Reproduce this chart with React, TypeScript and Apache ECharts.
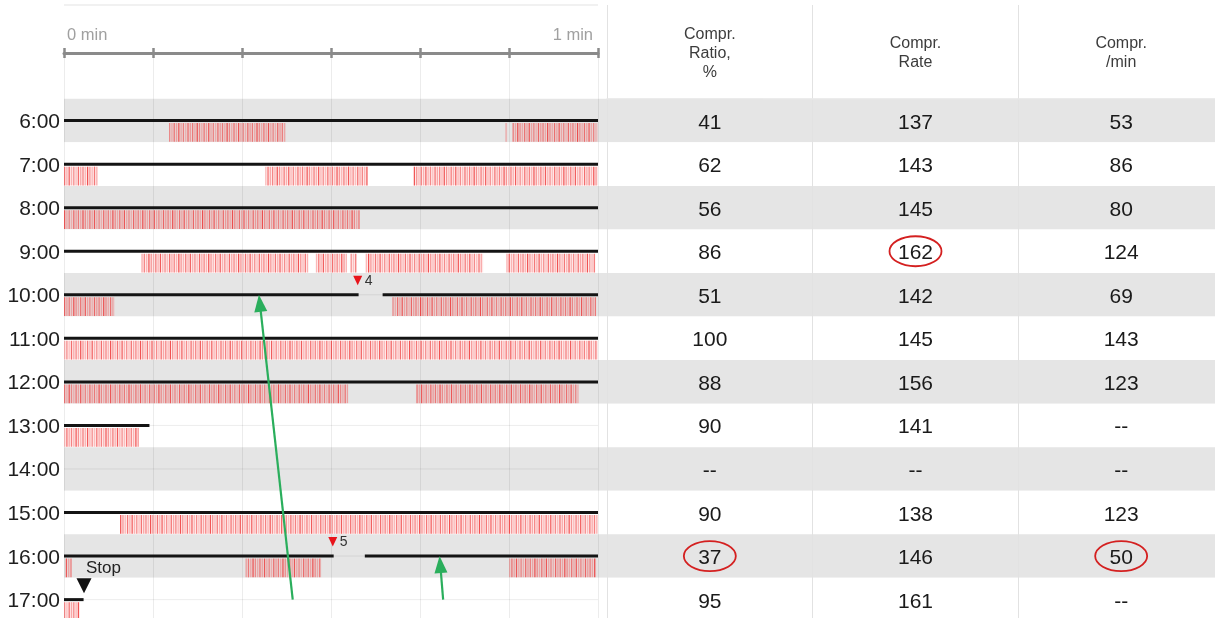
import React, { useEffect, useRef } from 'react';
import * as echarts from 'echarts';

// ---------- data ----------
const hourLabels = ['6:00', '7:00', '8:00', '9:00', '10:00', '11:00', '12:00', '13:00', '14:00', '15:00', '16:00', '17:00'];
const rulerLabels: Record<number, string> = { 0: '{l|0 min}', 60: '{r|1 min}' };
const tableHeaders = ['Compr.\nRatio,\n%', 'Compr.\nRate', 'Compr.\n/min'];
const comprRatio = [41, 62, 56, 86, 51, 100, 88, 90, null, 90, 37, 95];
const comprRate = [137, 143, 145, 162, 142, 145, 156, 141, null, 138, 146, 161];
const comprPerMin = [53, 86, 80, 124, 69, 143, 123, null, null, 123, 50, null];

// [start s, row index, end s]
const recordingLines = [
  [0, 0, 60], [0, 1, 60], [0, 2, 60], [0, 3, 60],
  [0, 4, 33.1], [35.8, 4, 60],
  [0, 5, 60], [0, 6, 60], [0, 7, 9.6], [0, 9, 60],
  [0, 10, 30.3], [33.8, 10, 60],
  [0, 11, 2.2],
];
// [start s, row index, end s]
const compressionPeriods = [
  [11.8, 0, 24.9], [49.6, 0, 49.8], [50.4, 0, 60],
  [0, 1, 3.8], [22.6, 1, 34.1], [39.3, 1, 60],
  [0, 2, 33.2],
  [8.7, 3, 27.4], [28.3, 3, 31.8], [32.2, 3, 32.8], [33.9, 3, 47.1], [49.7, 3, 59.7],
  [0, 4, 5.7], [36.9, 4, 59.8],
  [0, 5, 60],
  [0, 6, 31.9], [39.6, 6, 57.8],
  [0, 7, 8.4],
  [6.3, 9, 60],
  [0.2, 10, 0.9], [20.4, 10, 28.9], [50, 10, 59.8],
  [0, 11, 1.8],
];
// [time s, row index, label, kind]
const eventMarks: [number, number, string, string][] = [
  [33.0, 4, '4', 'shock'],
  [30.2, 10, '5', 'shock'],
  [2.25, 11, 'Stop', 'stop'],
];
// [column, row]
const circledCells = [[1, 3], [0, 10], [2, 10]];
// [tail s, tail row, tip s, tip row]
const pointerArrows = [
  [25.7, 11.42, 21.9, 4.33],
  [42.6, 11.42, 42.2, 10.36],
];

const hatchAlpha = [0.45, 0.25, 0.6, 0.3, 0.75, 0.28, 0.5, 0.22, 0.65, 0.35, 0.55, 0.27, 0.8];

export default function App() {
  const ref = useRef<HTMLDivElement>(null);

  useEffect(() => {
    const chart = echarts.init(ref.current!, null, { renderer: 'svg' });
    const font = "'Liberation Sans', Arial, Helvetica, sans-serif";
    const gridTop = 98.8;
    const gridH = 522.6;
    const faint = 'rgba(0,0,0,0.075)';
    const rulerColor = '#8a8a8a';
    const tableLine = '#e2e2e2';
    const tableCols = [comprRatio, comprRate, comprPerMin];
    const tableData: number[][] = [];
    tableCols.forEach((col, c) => col.forEach((_, r) => tableData.push([c, r])));
    const rulerText = { color: '#a0a0a0', fontSize: 16.5, fontFamily: font };

    const option: any = {
      animation: false,
      textStyle: { fontFamily: font },
      grid: [
        { left: 64, top: gridTop, width: 1160, height: gridH },
        { left: 64, top: gridTop, width: 534, height: gridH },
        { left: 64, top: 52, width: 534, height: 1 },
        { left: 607, top: gridTop, width: 617, height: gridH },
        { left: 607, top: 5, width: 617, height: gridTop - 5 },
        { left: 64, top: 52, width: 534, height: gridTop - 52 },
      ],
      xAxis: [
        { gridIndex: 0, type: 'value', show: false, min: 0, max: 1 },
        {
          gridIndex: 1, type: 'value', min: 0, max: 60, interval: 10,
          axisLine: { show: false }, axisTick: { show: false }, axisLabel: { show: false },
          splitLine: { show: true, lineStyle: { color: faint, width: 1 } }, z: 1,
        },
        {
          gridIndex: 2, type: 'value', position: 'top', min: 0, max: 60, interval: 10,
          axisLine: { show: true, lineStyle: { color: rulerColor, width: 3 } },
          axisTick: { show: true, length: 5, lineStyle: { color: rulerColor, width: 2.5 } },
          axisLabel: {
            show: true, margin: 10, ...rulerText,
            formatter: (v: number) => rulerLabels[v] ?? '',
            alignMinLabel: 'left', alignMaxLabel: 'right',
            rich: {
              l: { ...rulerText, padding: [0, 0, 0, 3] },
              r: { ...rulerText, padding: [0, 5, 0, 0] },
            },
          },
          splitLine: { show: false }, z: 3,
        },
        {
          gridIndex: 2, type: 'value', position: 'bottom', min: 0, max: 60, interval: 10,
          axisLine: { show: false },
          axisTick: { show: true, length: 5, lineStyle: { color: rulerColor, width: 2.5 } },
          axisLabel: { show: false }, splitLine: { show: false }, z: 3,
        },
        {
          gridIndex: 3, type: 'category', position: 'top', data: tableHeaders,
          axisLine: { show: true, lineStyle: { color: tableLine } }, axisTick: { show: false },
          axisLabel: {
            interval: 0, margin: gridTop - 52, verticalAlign: 'middle', align: 'center',
            lineHeight: 19, fontSize: 16, color: '#3c3c3c', fontFamily: font,
          },
          splitLine: { show: true, interval: 0, lineStyle: { color: tableLine } }, z: 1,
        },
        {
          gridIndex: 4, type: 'category', position: 'top', data: tableHeaders,
          axisLine: { show: true, lineStyle: { color: '#e8e8e8', width: 1.5 } }, axisTick: { show: false },
          axisLabel: { show: false },
          splitLine: { show: true, interval: 0, lineStyle: { color: tableLine } }, z: 1,
        },
        {
          gridIndex: 5, type: 'value', min: 0, max: 60, interval: 10,
          axisLine: { show: false }, axisTick: { show: false }, axisLabel: { show: false },
          splitLine: { show: true, lineStyle: { color: faint, width: 1 } }, z: 1,
        },
      ],
      yAxis: [
        {
          gridIndex: 0, type: 'category', inverse: true, data: hourLabels,
          axisLine: { show: false }, axisTick: { show: false }, axisLabel: { show: false },
          splitLine: { show: false },
          splitArea: { show: true, interval: 0, areaStyle: { color: ['#e5e5e5', '#ffffff'] } }, z: 0,
        },
        {
          gridIndex: 1, type: 'category', inverse: true, data: hourLabels,
          axisLine: { show: false }, axisTick: { show: false },
          axisLabel: { show: true, interval: 0, margin: 4, fontSize: 21, color: '#1e1e1e', fontFamily: font },
          splitLine: { show: false }, z: 1,
        },
        { gridIndex: 2, type: 'value', show: false, min: 0, max: 1 },
        { gridIndex: 3, type: 'category', inverse: true, data: hourLabels, show: false },
        { gridIndex: 4, type: 'value', show: false, min: 0, max: 1 },
        { gridIndex: 5, type: 'value', show: false, min: 0, max: 1 },
      ],
      graphic: [
        { type: 'line', shape: { x1: 64, y1: 5, x2: 598, y2: 5 }, style: { stroke: '#ececec', lineWidth: 1.5 }, silent: true },
      ],
      series: [
        {
          type: 'custom', xAxisIndex: 1, yAxisIndex: 1, z: 2,
          data: hourLabels.map((_, i) => [0, i, 60]),
          renderItem: (params: any, api: any) => {
            const p1 = api.coord([api.value(0), api.value(1)]);
            const p2 = api.coord([api.value(2), api.value(1)]);
            return { type: 'line', shape: { x1: p1[0], y1: p1[1], x2: p2[0], y2: p2[1] }, style: { stroke: faint, lineWidth: 1 } };
          },
        },
        {
          type: 'custom', xAxisIndex: 1, yAxisIndex: 1, z: 3,
          data: compressionPeriods,
          renderItem: (params: any, api: any) => {
            const row = api.value(1);
            const p1 = api.coord([api.value(0), row]);
            const p2 = api.coord([api.value(2), row]);
            const band = api.size([0, 1])[1];
            const top = p1[1] + 2.5;
            const bottom = p1[1] + band / 2 - 0.5;
            const children: any[] = [
              {
                type: 'rect',
                shape: { x: p1[0], y: top, width: Math.max(p2[0] - p1[0], 1), height: bottom - top },
                style: { fill: 'rgba(255,110,110,0.16)' },
              },
            ];
            let k = params.dataIndex * 5;
            for (let x = p1[0] + 0.6; x <= p2[0] + 0.1; x += 2.3) {
              const a = hatchAlpha[k % hatchAlpha.length];
              k++;
              children.push({
                type: 'line',
                shape: { x1: x, y1: top, x2: x, y2: bottom },
                style: { stroke: `rgba(236,45,45,${a})`, lineWidth: 1.2 },
              });
            }
            return { type: 'group', children };
          },
        },
        {
          type: 'custom', xAxisIndex: 1, yAxisIndex: 1, z: 4,
          data: recordingLines,
          renderItem: (params: any, api: any) => {
            const p1 = api.coord([api.value(0), api.value(1)]);
            const p2 = api.coord([api.value(2), api.value(1)]);
            return { type: 'line', shape: { x1: p1[0], y1: p1[1], x2: p2[0], y2: p2[1] }, style: { stroke: '#141414', lineWidth: 3 } };
          },
        },
        {
          type: 'custom', xAxisIndex: 1, yAxisIndex: 1, z: 5,
          data: eventMarks.map((e) => [e[0], e[1]]),
          renderItem: (params: any, api: any) => {
            const ev = eventMarks[params.dataIndex];
            const p = api.coord([api.value(0), api.value(1)]);
            const x = p[0];
            const y = p[1];
            if (ev[3] === 'stop') {
              return {
                type: 'group',
                children: [
                  { type: 'polygon', shape: { points: [[x - 7.5, y - 21.5], [x + 7.5, y - 21.5], [x, y - 6.5]] }, style: { fill: '#111' } },
                  { type: 'text', x: x + 2, y: y - 32.5, style: { text: ev[2], fill: '#222', fontSize: 17, fontFamily: font, align: 'left', verticalAlign: 'middle' } },
                ],
              };
            }
            return {
              type: 'group',
              children: [
                { type: 'polygon', shape: { points: [[x - 4.5, y - 19], [x + 4.5, y - 19], [x, y - 9.5]] }, style: { fill: '#e8141b' } },
                { type: 'text', x: x + 7, y: y - 15, style: { text: ev[2], fill: '#333', fontSize: 14, fontFamily: font, align: 'left', verticalAlign: 'middle' } },
              ],
            };
          },
        },
        {
          type: 'custom', xAxisIndex: 4, yAxisIndex: 3, z: 3,
          data: tableData,
          renderItem: (params: any, api: any) => {
            const c = tableData[params.dataIndex][0];
            const r = tableData[params.dataIndex][1];
            const v = tableCols[c][r];
            const p = api.coord([c, r]);
            return {
              type: 'text', x: p[0], y: p[1] + 0.5,
              style: { text: v == null ? '--' : String(v), fill: '#1a1a1a', fontSize: 21, fontFamily: font, align: 'center', verticalAlign: 'middle' },
            };
          },
        },
        {
          type: 'custom', xAxisIndex: 4, yAxisIndex: 3, z: 4,
          data: circledCells,
          renderItem: (params: any, api: any) => {
            const p = api.coord([api.value(0), api.value(1)]);
            return { type: 'ellipse', shape: { cx: p[0], cy: p[1], rx: 26, ry: 15 }, style: { fill: 'none', stroke: '#d42020', lineWidth: 1.8 } };
          },
        },
        {
          type: 'custom', xAxisIndex: 1, yAxisIndex: 1, z: 10,
          data: pointerArrows,
          renderItem: (params: any, api: any) => {
            const t = api.coord([api.value(0), api.value(1)]);
            const h = api.coord([api.value(2), api.value(3)]);
            const dx = h[0] - t[0];
            const dy = h[1] - t[1];
            const len = Math.sqrt(dx * dx + dy * dy);
            const ux = dx / len;
            const uy = dy / len;
            const hl = 17;
            const hw = 6.5;
            const bx = h[0] - ux * hl;
            const by = h[1] - uy * hl;
            const nx = -uy;
            const ny = ux;
            const green = '#2aae5c';
            return {
              type: 'group',
              children: [
                { type: 'line', shape: { x1: t[0], y1: t[1], x2: bx + ux * 2, y2: by + uy * 2 }, style: { stroke: green, lineWidth: 2.2 } },
                { type: 'polygon', shape: { points: [[h[0], h[1]], [bx + nx * hw, by + ny * hw], [bx - nx * hw, by - ny * hw]] }, style: { fill: green } },
              ],
            };
          },
        },
      ],
    };

    chart.setOption(option);
    return () => chart.dispose();
  }, []);

  return <div ref={ref} style={{ position: 'fixed', left: 0, top: 0, width: 1226, height: 626 }} />;
}
